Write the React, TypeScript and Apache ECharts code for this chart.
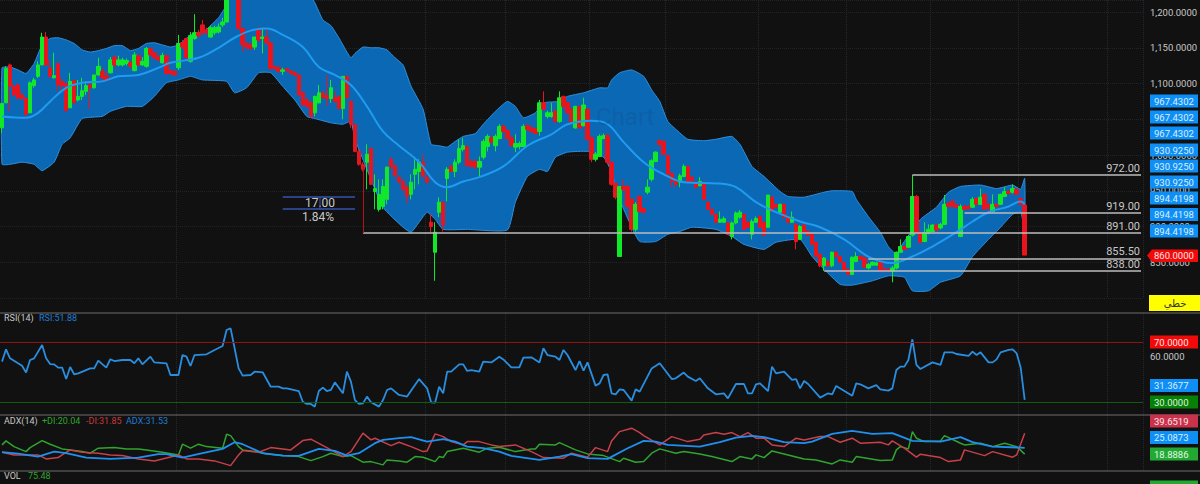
import React, { useEffect, useRef } from 'react';
import * as echarts from 'echarts';

const slotCount = 285;
const categories = Array.from({ length: slotCount }, (_, i) => String(i));

// open, close, low, high
const candles = [
  [1038,1072,1031,1072],[1073,1121,1073,1124],[1126,1096,1061,1128],[1096,1084,1082,1100],[1098,1080,1077,1100],
  [1084,1079,1077,1089],[1079,1057,1054,1082],[1059,1101,1059,1103],[1097,1105,1094,1108],[1110,1126,1108,1131],
  [1126,1165,1126,1171],[1165,1126,1124,1172],[1122,1110,1108,1133],[1108,1111,1107,1143],[1128,1098,1089,1129],
  [1103,1097,1091,1108],[1100,1062,1061,1101],[1066,1103,1066,1115],[1104,1073,1072,1105],[1077,1082,1075,1105],
  [1082,1090,1077,1108],[1089,1097,1084,1103],[1098,1094,1064,1101],[1094,1112,1093,1112],[1112,1124,1111,1136],
  [1117,1108,1105,1122],[1110,1104,1103,1117],[1115,1133,1114,1137],[1137,1126,1122,1139],[1126,1133,1124,1139],
  [1126,1133,1124,1136],[1128,1132,1125,1135],[1129,1124,1121,1132],[1118,1140,1117,1144],[1139,1126,1125,1140],
  [1126,1131,1125,1137],[1124,1149,1122,1151],[1149,1140,1139,1150],[1143,1136,1133,1144],[1137,1133,1131,1140],
  [1129,1139,1128,1143],[1139,1114,1112,1140],[1118,1114,1112,1119],[1117,1112,1111,1118],[1122,1156,1119,1168],
  [1157,1151,1147,1161],[1163,1136,1133,1164],[1131,1167,1129,1172],[1163,1171,1161,1197],[1171,1167,1164,1175],
  [1182,1171,1168,1189],[1175,1171,1168,1178],[1165,1178,1164,1181],[1171,1178,1168,1181],[1172,1179,1170,1184],
  [1182,1186,1179,1192],[1186,1224,1186,1230],[1230,1260,1225,1268],[1262,1232,1228,1266],[1232,1177,1175,1236],
  [1177,1154,1144,1178],[1156,1151,1147,1158],[1154,1149,1147,1157],[1151,1165,1147,1165],[1177,1161,1158,1179],
  [1163,1165,1142,1178],[1165,1157,1154,1178],[1157,1121,1119,1157],[1124,1121,1119,1125],[1122,1117,1115,1124],
  [1117,1119,1112,1122],[1121,1118,1117,1122],[1118,1114,1112,1119],[1115,1111,1110,1117],[1112,1084,1083,1112],
  [1087,1070,1069,1089],[1077,1068,1066,1080],[1073,1054,1052,1075],[1059,1082,1054,1083],[1073,1087,1072,1098],
  [1087,1080,1079,1089],[1083,1079,1068,1112],[1079,1094,1073,1105],[1080,1075,1073,1089],[1082,1065,1064,1083],
  [1065,1110,1050,1110],[1110,1080,1079,1111],[1075,1043,1038,1077],[1043,1005,1004,1043],[1005,987,985,1008],
  [987,980,977,990],[990,1001,952,1015],[1009,959,958,1011],[949,953,924,973],[924,945,921,966],
  [928,956,924,966],[938,983,931,984],[994,984,980,997],[985,971,969,987],[969,963,959,971],
  [963,952,949,966],[955,942,932,958],[945,962,938,973],[973,980,952,994],[977,990,959,994],
  [990,970,969,1001],[969,962,960,971],[906,900,892,917],[864,892,824,906],[920,934,913,941],
  [934,902,893,934],[967,980,935,983],[984,977,976,987],[977,990,969,994],[990,1009,987,1022],
  [1008,1013,1005,1024],[1012,985,984,1013],[991,984,983,994],[991,983,980,994],[983,991,970,998],
  [997,1019,994,1022],[1012,1026,1005,1029],[1024,1018,1016,1027],[1013,1026,1005,1029],[1023,1040,1022,1043],
  [1040,1033,1031,1043],[1034,1023,1022,1036],[1024,1013,1012,1027],[1011,1016,1004,1029],[1012,1016,1008,1019],
  [1012,1040,1011,1043],[1041,1036,1034,1043],[1038,1033,1031,1040],[1037,1030,1029,1038],[1033,1073,1027,1077],
  [1073,1064,1062,1089],[1054,1059,1051,1062],[1054,1059,1052,1073],[1061,1047,1045,1064],[1047,1080,1045,1089],
  [1082,1068,1066,1083],[1073,1059,1058,1075],[1064,1045,1044,1066],[1038,1068,1037,1069],[1068,1038,1037,1069],
  [1041,1070,1040,1080],[1064,1022,1020,1066],[1024,994,990,1027],[994,1001,991,1004],[998,1026,997,1029],
  [1023,1027,1022,1030],[1027,990,988,1030],[990,959,957,991],[960,941,938,962],[858,956,858,956],
  [956,952,949,966],[956,928,927,958],[938,896,893,939],[896,931,893,934],[942,921,920,944],
  [925,920,918,927],[948,955,945,966],[966,992,963,994],[991,1004,990,1005],[1020,1015,1013,1022],
  [1019,1001,1000,1020],[999,973,971,1001],[974,963,955,976],[963,959,955,964],[962,971,955,974],
  [970,984,969,987],[984,963,962,985],[969,964,963,970],[962,955,953,963],[957,963,956,969],
  [962,938,937,963],[934,924,923,935],[924,917,916,925],[917,906,905,918],[906,910,905,921],
  [906,911,905,914],[905,889,888,906],[886,905,882,907],[905,919,903,921],[913,920,911,923],
  [917,896,895,918],[906,899,898,907],[889,907,882,910],[906,911,905,914],[914,899,898,916],
  [906,888,886,907],[899,944,898,944],[941,921,920,942],[931,927,926,932],[920,931,918,932],
  [931,913,911,932],[914,906,905,916],[906,913,905,921],[903,879,868,905],[882,900,881,902],
  [902,892,891,903],[893,888,886,895],[889,875,874,891],[878,858,857,879],[861,845,843,863],
  [845,856,838,857],[851,845,843,853],[845,864,843,865],[864,858,857,865],[858,850,849,860],
  [850,838,836,851],[840,833,832,842],[833,857,832,858],[851,858,850,864],[858,854,853,860],
  [856,843,842,857],[842,847,840,849],[846,850,845,851],[846,849,845,851],[850,838,836,851],[840,838,836,842],
  [840,838,836,842],[838,842,822,845],[842,864,840,865],[864,872,863,882],[872,868,867,874],
  [871,886,870,888],[888,942,886,972],[942,891,889,944],[891,878,877,892],[879,891,878,906],
  [891,896,889,903],[893,902,892,903],[902,895,893,903],[898,903,896,905],[903,931,902,944],
  [932,928,927,935],[935,928,927,938],[930,927,926,931],[886,928,885,931],[928,924,923,931],
  [928,925,924,931],[927,938,926,941],[939,931,930,941],[931,941,930,953],[945,924,923,946],
  [931,927,921,932],[921,931,920,945],[931,928,927,932],[931,945,930,946],[942,949,941,955],
  [949,946,945,951],[948,953,946,959],[952,945,944,953],[939,931,930,941],
  [930,860,860,931],
];

// [candle index, value] vertices
const bandUpper = [
  [0,1122],[2,1123],[4,1119],[6,1114],[8,1128],[10,1154],[12,1163],[14,1164],[16,1161],[18,1156],[20,1147],[22,1144],
  [24,1146],[26,1149],[28,1153],[30,1153],[32,1146],[34,1149],[36,1156],[38,1157],[40,1154],[42,1151],[44,1154],[46,1163],
  [48,1171],[50,1171],[52,1181],[54,1192],[56,1210],[58,1238],[60,1252],[62,1259],[64,1266],[70,1266],[72,1259],[74,1252],
  [76,1231],[78,1213],[80,1189],[82,1181],[84,1164],[86,1144],[87,1136],[88,1142],[90,1151],[92,1150],[94,1150],[96,1147],
  [98,1136],[100,1126],[102,1096],[105,1064],[107,1015],[109,1013],[111,1011],[113,1019],[115,1026],[118,1030],[120,1043],
  [123,1061],[126,1075],[128,1068],[130,1052],[133,1059],[135,1073],[139,1075],[141,1082],[145,1087],[149,1094],[151,1094],
  [152,1105],[154,1115],[157,1119],[160,1110],[162,1091],[164,1075],[166,1047],[168,1036],[171,1022],[175,1020],[178,1022],
  [182,1026],[184,1015],[187,984],[190,970],[194,949],[196,942],[200,941],[205,948],[207,950],[212,949],[213,938],[216,914],
  [219,892],[221,872],[223,861],[224,871],[229,910],[233,927],[236,948],[239,956],[244,958],[248,953],[252,958],[254,952],
  [255,967.43],
];
const bandLower = [
  [0,987],[2,987],[5,990],[8,987],[10,978],[13,990],[15,1015],[17,1024],[20,1051],[25,1054],[27,1061],[31,1068],[35,1068],
  [38,1082],[41,1101],[44,1105],[47,1110],[50,1105],[56,1103],[58,1087],[61,1094],[64,1115],[67,1115],[70,1096],[73,1077],
  [76,1054],[78,1051],[82,1045],[85,1043],[87,1047],[88,1022],[89,1008],[95,927],[100,899],[102,892],[104,906],[106,920],
  [108,910],[110,896],[116,896],[126,895],[128,934],[131,970],[134,980],[136,977],[138,997],[141,1004],[146,1005],[150,997],
  [152,976],[154,938],[157,899],[159,879],[163,879],[166,889],[169,893],[172,899],[178,896],[182,886],[185,875],[190,868],
  [193,878],[199,882],[202,858],[205,840],[209,819],[212,818],[217,824],[221,831],[225,829],[227,810],[231,810],[234,822],
  [239,831],[242,858],[246,882],[249,899],[252,917],[254,920],[255,894.42],
];
const bandMiddle = [
  [0,1054],[6,1052],[9,1059],[12,1075],[16,1094],[20,1101],[25,1103],[29,1110],[34,1112],[39,1122],[42,1129],[49,1136],
  [54,1150],[58,1164],[62,1174],[66,1177],[70,1168],[75,1151],[79,1123],[83,1112],[87,1098],[91,1068],[95,1033],[99,1013],
  [104,990],[108,962],[111,955],[115,963],[119,969],[125,984],[131,1013],[137,1029],[141,1043],[147,1048],[151,1043],
  [155,1018],[160,990],[165,973],[170,962],[179,960],[183,955],[188,934],[193,920],[199,907],[204,899],[210,882],[216,858],
  [222,849],[227,858],[232,872],[238,892],[242,907],[246,920],[251,928],[254,935],[255,930.93],
];

const rsiLine = [
  [0,56.9],[1,65.1],[2,59.1],[4,55.8],[5,54.2],[6,49.6],[7,58],[8,59.1],[10,68],[11,59.1],[12,55.3],[13,55.1],[14,52.9],[15,52.9],
  [16,45.3],[17,53.3],[18,48.4],[19,49.1],[22,52.4],[23,52.4],[24,57.6],[26,52.9],[27,58.5],[28,57.3],[30,58],[32,58],[33,55.8],
  [34,59.1],[35,55.1],[37,60.2],[38,56.4],[41,55.8],[42,48],[44,48],[45,61.3],[46,60.2],[47,54],[48,61.3],[51,61.8],[53,64.7],
  [55,67.3],[56,78],[57,79.1],[58,65.8],[59,52.4],[60,47.6],[62,48],[63,50.2],[65,49.8],[67,40.2],[69,40.2],[70,39.1],[71,39.1],
  [74,37.3],[75,30.2],[76,28.7],[77,28.7],[78,26.9],[79,37.3],[80,39.6],[81,37.3],[82,38],[83,43.1],[85,35.8],[86,50.2],[87,43.6],
  [88,31.3],[89,28.7],[90,29.1],[91,33.6],[92,29.8],[93,28.4],[94,26.9],[95,31.3],[96,38],[97,39.1],[99,34.7],[101,33.6],[104,45.3],
  [106,39.1],[107,29.8],[108,29.6],[109,40.2],[110,35.8],[111,50.2],[112,50.2],[114,55.1],[115,55.1],[116,50.7],[117,51.3],[119,50.2],
  [120,56.9],[122,56.4],[124,60.2],[125,58.4],[127,53.1],[129,53.1],[130,59.6],[132,59.8],[134,56.4],[135,65.8],[136,61.3],[138,60.2],
  [139,58],[140,64.7],[141,61.3],[143,51.3],[144,57.3],[145,50.9],[146,56.4],[148,40.9],[149,42.4],[150,48],[151,48.4],[152,35.8],
  [153,35.1],[154,38.4],[155,38],[157,30.9],[158,38.4],[159,36.9],[162,52.4],[164,55.8],[167,45.3],[168,45.8],[170,49.6],[171,46.9],
  [173,44],[174,45.8],[176,39.1],[178,35.1],[180,35.8],[181,32.4],[183,42],[185,42],[186,35.8],[187,35.8],[188,41.8],[189,42.4],
  [191,37.3],[192,53.6],[193,49.1],[195,50.2],[197,44.7],[198,45.3],[199,39.1],[200,44],[201,42],[204,32.9],[206,35.8],[207,35.1],
  [208,40.7],[212,34.2],[213,42.4],[214,41.8],[216,39.1],[218,41.3],[219,38.4],[221,37.6],[222,39.1],[223,51.3],[224,53.6],[225,53.6],
  [226,58],[227,71.8],[228,54.7],[229,52],[232,56.4],[234,54.7],[235,63.1],[237,63.1],[238,62],[241,60.7],[242,63.6],[243,61.3],
  [244,63.1],[246,56.4],[247,56.4],[248,58.4],[249,63.1],[251,64.7],[252,65.1],[253,62.4],[254,53],[255,31.37],
];

const plusDi = [
  [0,28.1],[1,32.1],[3,26.4],[6,21.4],[7,25.4],[10,32.4],[12,28.8],[15,24.1],[17,23.1],[20,21.4],[22,19.8],[24,24.8],[28,25.4],[31,24.1],
  [34,24.1],[36,23.1],[40,20.8],[44,18.1],[45,28.8],[47,24.8],[49,28.8],[51,26.4],[55,24.8],[56,38.8],[57,37.4],[59,26.4],[60,23.1],
  [63,21.4],[66,19.1],[70,17.4],[74,16.4],[77,12.4],[80,16.4],[82,19.8],[85,16.4],[87,17.4],[90,10.8],[92,11.4],[95,8.1],[96,13.1],[99,12.1],
  [101,10.8],[103,16.4],[105,15.8],[108,11.4],[109,16.4],[110,15.4],[111,21.4],[115,24.8],[119,20.8],[121,24.8],[124,25.8],[128,21.4],
  [132,24.1],[133,24.1],[134,28.8],[138,28.1],[139,30.4],[143,23.1],[146,19.1],[150,17.4],[154,11.4],[155,14.8],[158,10.8],[160,11.4],
  [162,19.8],[164,24.1],[168,19.8],[170,21.4],[174,19.1],[177,16.4],[182,11.4],[184,16.4],[187,14.1],[188,18.1],[190,15.4],[192,22.1],
  [195,19.1],[200,14.1],[203,13.1],[207,9.1],[209,13.1],[212,10.8],[213,16.4],[219,12.4],[222,13.1],[223,23.1],[224,26.4],[226,24.1],
  [227,41.4],[228,34.8],[230,31.4],[234,32.1],[235,37.4],[239,29.8],[240,28.1],[244,29.8],[247,26.4],[250,29.8],[253,26.4],[255,18.89],
];
const minusDi = [
  [0,20.8],[3,18.1],[6,18.1],[9,18.1],[11,14.1],[14,15.4],[15,18.1],[17,23.1],[20,20.8],[24,19.8],[27,18.1],[30,17.4],[34,14.1],[38,12.1],
  [40,14.1],[44,18.1],[46,14.1],[49,14.1],[53,12.1],[57,7.4],[59,18.1],[60,22.4],[64,20.8],[67,25.4],[72,23.1],[75,32.4],[77,33.8],[81,25.4],
  [85,16.4],[87,21.4],[90,39.8],[92,33.1],[93,34.8],[97,27.4],[99,30.8],[102,26.4],[105,21.4],[106,22.1],[108,39.1],[110,36.4],[112,31.4],
  [115,28.1],[116,31.4],[119,31.4],[122,28.1],[124,26.4],[128,28.1],[132,21.4],[135,15.4],[140,14.8],[142,19.8],[146,15.8],[148,25.4],
  [151,21.4],[152,32.1],[154,41.4],[157,44.8],[159,40.4],[160,37.4],[164,28.1],[167,36.4],[171,31.4],[174,33.8],[175,38.1],[178,40.4],
  [180,38.8],[182,40.4],[184,36.4],[186,40.4],[188,34.8],[190,34.8],[192,28.1],[195,26.4],[198,34.8],[200,33.1],[204,36.4],[206,36.4],
  [209,30.8],[212,34.8],[214,29.8],[219,30.8],[221,28.1],[222,32.1],[225,24.8],[228,15.8],[229,18.8],[234,15.4],[236,11.4],[239,13.1],
  [240,23.1],[245,17.4],[247,21.4],[252,15.8],[253,18.1],[255,39.65],
];
const adxLine = [
  [0,20.8],[4,19.4],[9,16.4],[13,21.4],[16,19.8],[21,15.4],[27,14.1],[34,15.4],[39,18.8],[41,18.8],[45,15.4],[50,19.8],[55,24.1],[58,30.8],
  [60,28.8],[65,19.8],[70,17.4],[74,17.1],[79,24.1],[83,22.1],[86,17.4],[89,19.8],[93,29.8],[95,33.1],[99,34.8],[102,35.8],[106,31.4],
  [110,33.8],[113,31.4],[116,26.4],[120,24.8],[124,21.4],[127,17.1],[130,15.4],[134,13.1],[139,16.4],[142,18.8],[146,14.8],[151,14.1],
  [156,24.8],[160,32.1],[163,31.4],[166,28.1],[174,26.4],[179,30.8],[183,35.4],[187,37.1],[190,35.8],[195,30.8],[200,29.8],[202,31.4],
  [207,39.1],[212,42.1],[217,39.1],[222,39.8],[227,32.1],[234,31.4],[239,35.8],[242,30.8],[247,26.4],[254,25.4],[255,25.09],
];

const priceLevels = [972, 919, 891, 855.5, 838];
const levelStarts = [227, 240, 90, 216, 205];
const dividendSlots = [91, 192];
const gridSlots = [44, 106, 126, 147, 166, 189, 211, 232, 254, 276];
const hiddenPriceLabels = [800, 1050];

const upperTags = ['967.4302', '967.4302', '967.4302'];
const middleTags = ['930.9250', '930.9250', '930.9250'];
const lowerTags = ['894.4198', '894.4198', '894.4198'];

const GREEN = '#12e82a';
const RED = '#e8151f';
const BLUE_TAG = '#0f8ff5';
const TEXT = '#c8c8c8';

const tag = (text: string, cy: number, fill: string, color = '#d8eeff') => [
  { type: 'rect', z: 100, shape: { x: 1150, y: cy - 6.5, width: 48, height: 13 }, style: { fill } },
  { type: 'text', z: 101, x: 1154, y: cy, style: { text, fill: color, font: '9.5px Roboto', verticalAlign: 'middle' } },
];
const note = (text: string, x: number, y: number, fill: string, size = 9, align = 'left') => ({
  type: 'text', z: 100, x, y,
  style: { text, fill, font: `${size}px Roboto`, align, verticalAlign: 'middle' },
});
const rule = (y: number) => ({
  type: 'line', z: 90, shape: { x1: 0, y1: y, x2: 1200, y2: y }, style: { stroke: '#6e6e6e', lineWidth: 1 },
});

const buildGraphic = () => [
  rule(313), rule(415), rule(471),
  note('Chart', 596, 117, 'rgba(30,60,110,0.2)', 24),
  note('17.00', 320, 203, TEXT, 12, 'center'),
  note('1.84%', 318, 217, TEXT, 12, 'center'),
  { type: 'line', z: 100, shape: { x1: 320, y1: 197, x2: 320, y2: 209 }, style: { stroke: '#3552b0', lineWidth: 1 } },
  ...upperTags.flatMap((t, i) => tag(t, 101 + i * 16, BLUE_TAG)),
  ...middleTags.flatMap((t, i) => tag(t, 150 + i * 16, BLUE_TAG)),
  ...lowerTags.flatMap((t, i) => tag(t, 198 + i * 16.5, BLUE_TAG)),
  {
    type: 'polygon', z: 100,
    shape: { points: [[1147, 255.5], [1152, 249.5], [1198, 249.5], [1198, 262], [1152, 262]] },
    style: { fill: '#f20a0a' },
  },
  { type: 'text', z: 101, x: 1154, y: 255.5, style: { text: '860.0000', fill: '#ffe5e5', font: '9.5px Roboto', verticalAlign: 'middle' } },
  { type: 'rect', z: 100, shape: { x: 1149, y: 295, width: 51, height: 16 }, style: { fill: '#ffff00' } },
  {
    type: 'text', z: 101, x: 1175, y: 303,
    style: { text: 'خطي', fill: '#333', font: '10px "Noto Sans", "DejaVu Sans"', align: 'center', verticalAlign: 'middle' },
  },
  ...tag('70.0000', 342, '#f20a0a', '#ffe5e5'),
  ...tag('31.3677', 385.5, BLUE_TAG),
  ...tag('30.0000', 402, '#078007', '#dff5df'),
  ...tag('39.6519', 421, '#c8324a', '#ffe5e9'),
  ...tag('25.0873', 437.5, BLUE_TAG),
  ...tag('18.8886', 454, '#22a933', '#e2f8e5'),
  ...tag('856.8846', 487, '#22a933', '#e2f8e5'),
  note('RSI(14)', 4, 318, TEXT),
  note('RSI:51.88', 39, 318, '#1f7ed6'),
  note('ADX(14)', 4, 421, TEXT),
  note('+DI:20.04', 42, 421, '#2ea52e'),
  note('-DI:31.85', 86, 421, '#c83a3a'),
  note('ADX:31.53', 126, 421, '#1f7ed6'),
  note('VOL', 4, 476, TEXT),
  note('75.48', 28, 476, '#2ea52e'),
];

const hiddenX = (gridIndex: number, showGrid: boolean) => ({
  type: 'category',
  gridIndex,
  data: categories,
  boundaryGap: true,
  axisLine: { show: false },
  axisTick: { show: false },
  axisLabel: { show: false },
  splitLine: {
    show: showGrid,
    interval: (i: number) => gridSlots.includes(i),
    lineStyle: { color: '#26292c', type: 'dotted', width: 1 },
  },
});

const lineSeries = (data: number[][], color: string, axis: number, width = 1.5) => ({
  type: 'line',
  data,
  xAxisIndex: axis,
  yAxisIndex: axis,
  showSymbol: false,
  silent: true,
  lineStyle: { color, width },
});

const App: React.FC = () => {
  const chartRef = useRef<HTMLDivElement | null>(null);

  useEffect(() => {
    const chart = echarts.init(chartRef.current!, undefined, { renderer: 'svg' });

    const option: any = {
      animation: false,
      backgroundColor: '#111111',
      textStyle: { fontFamily: 'Roboto' },
      graphic: { elements: buildGraphic() },
      grid: [
        { left: 0, right: 57, top: 0, height: 298, outerBoundsMode: 'none' },
        { left: 0, right: 57, top: 313, height: 102, outerBoundsMode: 'none' },
        { left: 0, right: 57, top: 415, height: 56, outerBoundsMode: 'none' },
      ],
      xAxis: [hiddenX(0, true), hiddenX(1, true), hiddenX(2, true)],
      yAxis: [
        {
          type: 'value',
          gridIndex: 0,
          position: 'right',
          min: 800,
          max: 1216.8,
          interval: 50,
          axisLine: { show: false },
          axisTick: { length: 4, lineStyle: { color: '#9a9a9a' } },
          axisLabel: {
            showMaxLabel: false,
            margin: 7,
            fontSize: 9.5,
            color: TEXT,
            formatter: (v: number) =>
              hiddenPriceLabels.includes(v)
                ? ''
                : v.toLocaleString('en-US', { minimumFractionDigits: 4, maximumFractionDigits: 4 }),
          },
          splitLine: { lineStyle: { color: '#212427', type: 'dotted' } },
        },
        {
          type: 'value',
          gridIndex: 1,
          position: 'right',
          min: 21.33,
          max: 89.33,
          axisLine: { show: false },
          axisTick: { length: 4, customValues: [40, 60], lineStyle: { color: '#9a9a9a' } },
          axisLabel: {
            customValues: [60],
            margin: 7,
            fontSize: 9.5,
            color: TEXT,
            formatter: (v: number) => v.toFixed(4),
          },
          splitLine: { show: false },
        },
        {
          type: 'value',
          gridIndex: 2,
          position: 'right',
          min: 2,
          max: 58,
          axisLine: { show: false },
          axisTick: { show: false },
          axisLabel: { show: false },
          splitLine: { show: false },
        },
      ],
      series: [
        {
          type: 'custom',
          coordinateSystem: 'cartesian2d',
          xAxisIndex: 0,
          yAxisIndex: 0,
          clip: true,
          silent: true,
          data: [[0, 1000]],
          renderItem: (_params: any, api: any) => {
            const top = bandUpper.map((p) => api.coord(p));
            const bottom = bandLower.slice().reverse().map((p) => api.coord(p));
            return {
              type: 'polygon',
              shape: { points: [...top, ...bottom], smooth: 0.15 },
              style: { fill: '#0b68b5', stroke: '#2f8fdc', lineWidth: 1 },
            };
          },
        },
        { ...lineSeries(bandMiddle, '#1f9bf0', 0, 2), smooth: 0.4 },
        {
          type: 'candlestick',
          xAxisIndex: 0,
          yAxisIndex: 0,
          data: candles,
          barWidth: 4,
          silent: true,
          itemStyle: { color: GREEN, color0: RED, borderColor: GREEN, borderColor0: RED, borderWidth: 1 },
          markLine: {
            silent: true,
            symbol: ['none', 'none'],
            data: [
              ...priceLevels.map((level, i) => [
                {
                  coord: [levelStarts[i], level],
                  lineStyle: { color: '#bdbdbd', width: 1.5, type: 'solid' },
                  label: {
                    show: true,
                    position: 'insideEndTop',
                    formatter: level.toFixed(2),
                    color: TEXT,
                    fontSize: 11,
                    distance: 1,
                  },
                },
                { coord: [284, level] },
              ]),
              [
                { coord: [90, 984], lineStyle: { color: '#b5121c', width: 1, type: 'solid' }, label: { show: false } },
                { coord: [90, 891] },
              ],
              ...[942, 925].map((level) => [
                { coord: [70, level], lineStyle: { color: '#3552b0', width: 1.5, type: 'solid' }, label: { show: false } },
                { coord: [88, level] },
              ]),
            ],
          },
          markPoint: {
            silent: true,
            symbol: 'circle',
            symbolSize: 13,
            itemStyle: { color: 'rgba(0,0,0,0)', borderColor: '#2f8fdc', borderWidth: 1.2 },
            label: { show: true, formatter: 'D', color: '#3aa0e8', fontSize: 9 },
            data: dividendSlots.map((slot) => ({ coord: [slot, 796] })),
          },
        },
        {
          ...lineSeries(rsiLine, '#2a8ee0', 1, 1.8),
          markLine: {
            silent: true,
            symbol: ['none', 'none'],
            label: { show: false },
            data: [
              { yAxis: 70, lineStyle: { color: '#8f1414', width: 1, type: 'solid' } },
              { yAxis: 30, lineStyle: { color: '#0f5c0f', width: 1, type: 'solid' } },
            ],
          },
        },
        lineSeries(plusDi, '#2fa52f', 2),
        lineSeries(minusDi, '#c8404a', 2),
        lineSeries(adxLine, '#2090f0', 2, 1.8),
      ],
    };

    chart.setOption(option);

    return () => {
      chart.dispose();
    };
  }, []);

  return <div ref={chartRef} style={{ position: 'fixed', left: 0, top: 0, width: 1200, height: 484 }} />;
};

export default App;
